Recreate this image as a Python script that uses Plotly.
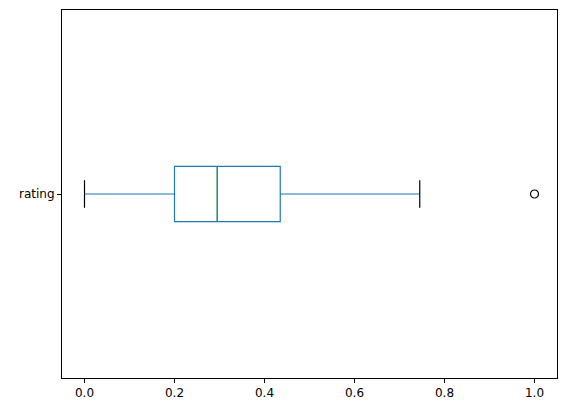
import plotly.graph_objects as go

# values
label = "rating"
q1, median, q3 = 0.20, 0.295, 0.435
lower_whisker, upper_whisker = 0.0, 0.745
outliers = [1.0]

ypos = 1
box_w = 0.15
cap_w = 0.075

fig = go.Figure()
fig.add_trace(go.Box(
    y=[ypos], q1=[q1], median=[median], q3=[q3],
    lowerfence=[lower_whisker], upperfence=[upper_whisker],
    orientation="h", width=box_w, whiskerwidth=0,
    line=dict(color="#1f77b4", width=1.2), fillcolor="white",
    boxpoints=False, hoverinfo="skip",
))
# median line in green
fig.add_trace(go.Scatter(
    x=[median, median], y=[ypos - box_w / 2, ypos + box_w / 2], mode="lines",
    line=dict(color="#2ca02c", width=1.2), hoverinfo="skip",
))
# black caps
for v in (lower_whisker, upper_whisker):
    fig.add_trace(go.Scatter(
        x=[v, v], y=[ypos - cap_w / 2, ypos + cap_w / 2], mode="lines",
        line=dict(color="black", width=1.2), hoverinfo="skip",
    ))
fig.add_trace(go.Scatter(
    x=outliers, y=[ypos] * len(outliers), mode="markers",
    marker=dict(symbol="circle-open", size=8, color="black", line=dict(width=1.2)),
    hoverinfo="skip",
))

fig.update_layout(
    width=567, height=413, showlegend=False,
    margin=dict(l=54, r=18, t=2, b=43),
    plot_bgcolor="white", paper_bgcolor="white",
    font=dict(family="DejaVu Sans", size=12, color="black"),
)
fig.update_xaxes(
    range=[-0.05, 1.05], tickvals=[0, 0.2, 0.4, 0.6, 0.8, 1.0],
    ticktext=["0.0", "0.2", "0.4", "0.6", "0.8", "1.0"],
    showgrid=False, zeroline=False, showline=True, linecolor="black", linewidth=1,
    mirror=True, ticks="outside", ticklen=4, tickcolor="black",
)
fig.update_yaxes(
    range=[0.5, 1.5], tickvals=[ypos], ticktext=[label],
    showgrid=False, zeroline=False, showline=True, linecolor="black", linewidth=1,
    mirror=True, ticks="outside", ticklen=4, tickcolor="black",
)
fig.write_html("out.html")
